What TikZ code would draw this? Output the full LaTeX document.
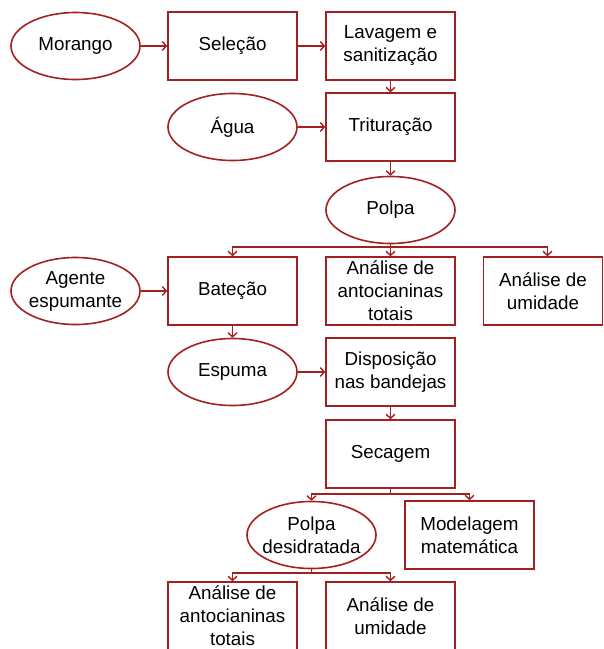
\documentclass[tikz,border=0pt]{standalone}
\usepackage{fontspec}
\setmainfont{Liberation Sans}
\usetikzlibrary{shapes.geometric,arrows.meta}
\definecolor{dred}{HTML}{A32020}
\begin{document}
\begin{tikzpicture}[x=1pt,y=-1pt,
  box/.style={draw=dred,line width=1.6pt,rectangle,minimum width=129pt,minimum height=68pt,inner sep=1pt,align=center,font=\fontsize{18.8}{23}\selectfont},
  ell/.style={draw=dred,line width=1.6pt,ellipse,minimum width=129pt,minimum height=67pt,inner xsep=-12pt,inner ysep=-8pt,align=center,font=\fontsize{18.8}{23}\selectfont},
  arr/.style={draw=dred,line width=1.4pt,-{Straight Barb[length=4pt,width=9pt]}},
  ln/.style={draw=dred,line width=1.4pt}]
\useasboundingbox (0,0) rectangle (604,649);
\clip (0,0) rectangle (604,649);
\node[ell] (mor) at (75.5,46) {Morango};
\node[box] (sel) at (232.5,46) {Seleção};
\node[box] (lav) at (390.5,46) {Lavagem e\\sanitização};
\node[ell] (agua) at (232.5,127) {Água};
\node[box] (tri) at (390.5,127) {Trituração};
\node[ell] (polpa) at (390.5,210) {Polpa};
\node[ell] (agente) at (75.5,291) {Agente\\espumante};
\node[box] (bat) at (232.5,291) {Bateção};
\node[box] (ant1) at (390.5,291) {Análise de\\antocianinas\\totais};
\node[box,minimum width=119pt] (umi1) at (543,291) {Análise de\\umidade};
\node[ell] (esp) at (232.5,372) {Espuma};
\node[box] (disp) at (390.5,372) {Disposição\\nas bandejas};
\node[box] (sec) at (390.5,454) {Secagem};
\node[ell] (pdes) at (311.5,535) {Polpa\\desidratada};
\node[box] (mod) at (469.5,535) {Modelagem\\matemática};
\node[box] (ant2) at (232.5,616) {Análise de\\antocianinas\\totais};
\node[box] (umi2) at (390.5,616) {Análise de\\umidade};
\coordinate (b1) at (390.5,247);
\coordinate (b2) at (390.5,494);
\coordinate (b3) at (311.5,573);
\draw[arr] (mor) -- (sel);
\draw[arr] (sel) -- (lav);
\draw[arr] (lav) -- (tri);
\draw[arr] (agua) -- (tri);
\draw[arr] (tri) -- (polpa);
\draw[ln] (polpa) -- (b1);
\draw[arr] (b1) -| (bat);
\draw[arr] (b1) -- (ant1);
\draw[arr] (b1) -| ([xshift=4.5pt]umi1.north);
\draw[arr] (agente) -- (bat);
\draw[arr] (bat) -- (esp);
\draw[arr] (esp) -- (disp);
\draw[arr] (disp) -- (sec);
\draw[ln] (sec) -- (b2);
\draw[arr] (b2) -| (pdes);
\draw[arr] (b2) -| (mod);
\draw[ln] (pdes) -- (b3);
\draw[arr] (b3) -| (ant2);
\draw[arr] (b3) -| (umi2);
\end{tikzpicture}
\end{document}
